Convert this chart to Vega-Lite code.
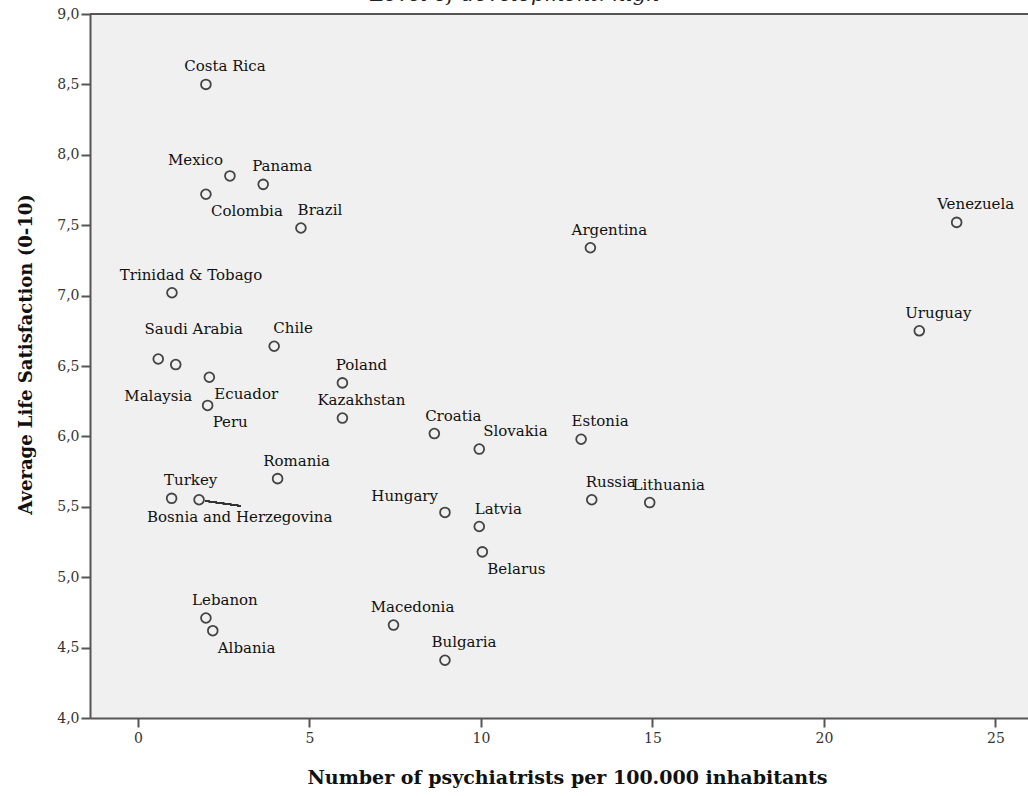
{
  "$schema": "https://vega.github.io/schema/vega-lite/v6.json",
  "autosize": "none",
  "padding": {"left": 90, "top": 14, "right": 0, "bottom": 78},
  "width": 938,
  "height": 704,
  "background": "white",
  "title": {"text": "Level of development: high", "font": "DejaVu Serif", "fontStyle": "italic", "fontWeight": "normal", "fontSize": 21, "color": "#222", "anchor": "middle", "frame": "group", "dx": -44, "dy": 15, "offset": 0, "baseline": "alphabetic"},
  "config": {
    "view": {"fill": "#f0f0f0", "stroke": null},
    "axis": {"grid": false, "domainColor": "#555", "domainWidth": 2, "tickColor": "#555", "tickWidth": 2, "tickSize": 9, "labelFont": "DejaVu Serif", "labelFontSize": 14, "labelColor": "#333", "titleFont": "DejaVu Serif", "titleFontWeight": "bold", "titleColor": "#111"},
    "text": {"font": "DejaVu Serif", "fontSize": 15, "color": "#111"}
  },
  "data": {"values": [
    {"country": "Costa Rica", "psychiatrists": 1.98, "satisfaction": 8.50},
    {"country": "Mexico", "psychiatrists": 2.68, "satisfaction": 7.85},
    {"country": "Panama", "psychiatrists": 3.65, "satisfaction": 7.79},
    {"country": "Colombia", "psychiatrists": 1.98, "satisfaction": 7.72},
    {"country": "Brazil", "psychiatrists": 4.75, "satisfaction": 7.48},
    {"country": "Argentina", "psychiatrists": 13.19, "satisfaction": 7.34},
    {"country": "Venezuela", "psychiatrists": 23.87, "satisfaction": 7.52},
    {"country": "Trinidad & Tobago", "psychiatrists": 0.99, "satisfaction": 7.02},
    {"country": "Uruguay", "psychiatrists": 22.78, "satisfaction": 6.75},
    {"country": "Chile", "psychiatrists": 3.97, "satisfaction": 6.64},
    {"country": "Malaysia", "psychiatrists": 0.59, "satisfaction": 6.55},
    {"country": "Saudi Arabia", "psychiatrists": 1.10, "satisfaction": 6.51},
    {"country": "Ecuador", "psychiatrists": 2.08, "satisfaction": 6.42},
    {"country": "Peru", "psychiatrists": 2.03, "satisfaction": 6.22},
    {"country": "Poland", "psychiatrists": 5.96, "satisfaction": 6.38},
    {"country": "Kazakhstan", "psychiatrists": 5.96, "satisfaction": 6.13},
    {"country": "Croatia", "psychiatrists": 8.64, "satisfaction": 6.02},
    {"country": "Slovakia", "psychiatrists": 9.95, "satisfaction": 5.91},
    {"country": "Estonia", "psychiatrists": 12.92, "satisfaction": 5.98},
    {"country": "Romania", "psychiatrists": 4.07, "satisfaction": 5.70},
    {"country": "Turkey", "psychiatrists": 0.98, "satisfaction": 5.56},
    {"country": "Bosnia and Herzegovina", "psychiatrists": 1.78, "satisfaction": 5.55},
    {"country": "Hungary", "psychiatrists": 8.95, "satisfaction": 5.46},
    {"country": "Russia", "psychiatrists": 13.23, "satisfaction": 5.55},
    {"country": "Lithuania", "psychiatrists": 14.92, "satisfaction": 5.53},
    {"country": "Latvia", "psychiatrists": 9.95, "satisfaction": 5.36},
    {"country": "Belarus", "psychiatrists": 10.04, "satisfaction": 5.18},
    {"country": "Lebanon", "psychiatrists": 1.98, "satisfaction": 4.71},
    {"country": "Albania", "psychiatrists": 2.18, "satisfaction": 4.62},
    {"country": "Macedonia", "psychiatrists": 7.45, "satisfaction": 4.66},
    {"country": "Bulgaria", "psychiatrists": 8.95, "satisfaction": 4.41}
  ]},
  "encoding": {
    "x": {"field": "psychiatrists", "type": "quantitative", "scale": {"domain": [-1.4, 25.95], "nice": false, "zero": false},
      "axis": {"title": "Number of psychiatrists per 100.000 inhabitants", "titleFontSize": 19, "values": [0, 5, 10, 15, 20, 25], "format": "d", "labelPadding": 4, "titleX": 477, "titleY": 65, "titleBaseline": "alphabetic"}},
    "y": {"field": "satisfaction", "type": "quantitative", "scale": {"domain": [4, 9], "nice": false, "zero": false},
      "axis": {"title": "Average Life Satisfaction (0-10)", "titleFontSize": 18, "values": [4, 4.5, 5, 5.5, 6, 6.5, 7, 7.5, 8, 8.5, 9], "labelExpr": "replace(format(datum.value, '.1f'), '.', ',')", "labelPadding": 2, "titleAngle": -90, "titleX": -64, "titleY": 340, "titleAlign": "center", "titleBaseline": "middle"}}
  },
  "layer": [
    {"mark": {"type": "rule", "color": "#555", "strokeWidth": 2}, "encoding": {"x": null, "y": {"datum": 9}}},
    {"mark": {"type": "rule", "color": "#333", "strokeWidth": 1.3},
      "encoding": {"x": {"datum": 1.955}, "y": {"datum": 5.542}, "x2": {"datum": 2.98}, "y2": {"datum": 5.507}}},
    {"mark": {"type": "point", "shape": "circle", "filled": false, "fill": "#f0f0f0", "fillOpacity": 1, "stroke": "#444", "strokeWidth": 1.8, "size": 95, "opacity": 1}},
    {"transform": [{"filter": {"field": "country", "oneOf": ["Costa Rica", "Panama", "Brazil", "Trinidad & Tobago", "Chile", "Poland", "Kazakhstan", "Croatia", "Estonia", "Latvia", "Russia", "Lithuania", "Macedonia", "Bulgaria", "Romania", "Turkey", "Lebanon", "Argentina", "Venezuela", "Uruguay"]}}],
      "mark": {"type": "text", "align": "center", "baseline": "middle", "dx": 19, "dy": -18}, "encoding": {"text": {"field": "country"}}},
    {"transform": [{"filter": {"field": "country", "oneOf": ["Colombia", "Ecuador", "Peru", "Belarus", "Albania"]}}],
      "mark": {"type": "text", "align": "left", "baseline": "middle", "dx": 5, "dy": 17}, "encoding": {"text": {"field": "country"}}},
    {"transform": [{"filter": {"field": "country", "oneOf": ["Mexico", "Hungary"]}}],
      "mark": {"type": "text", "align": "right", "baseline": "middle", "dx": -7, "dy": -16}, "encoding": {"text": {"field": "country"}}},
    {"transform": [{"filter": {"field": "country", "equal": "Slovakia"}}],
      "mark": {"type": "text", "align": "left", "baseline": "middle", "dx": 4, "dy": -18}, "encoding": {"text": {"field": "country"}}},
    {"transform": [{"filter": {"field": "country", "equal": "Saudi Arabia"}}],
      "mark": {"type": "text", "align": "center", "baseline": "middle", "dx": 18, "dy": -36}, "encoding": {"text": {"field": "country"}}},
    {"transform": [{"filter": {"field": "country", "equal": "Malaysia"}}],
      "mark": {"type": "text", "align": "right", "baseline": "middle", "dx": 34, "dy": 37}, "encoding": {"text": {"field": "country"}}},
    {"transform": [{"filter": {"field": "country", "equal": "Bosnia and Herzegovina"}}],
      "mark": {"type": "text", "align": "left", "baseline": "middle", "dx": -52, "dy": 17}, "encoding": {"text": {"field": "country"}}}
  ]
}
